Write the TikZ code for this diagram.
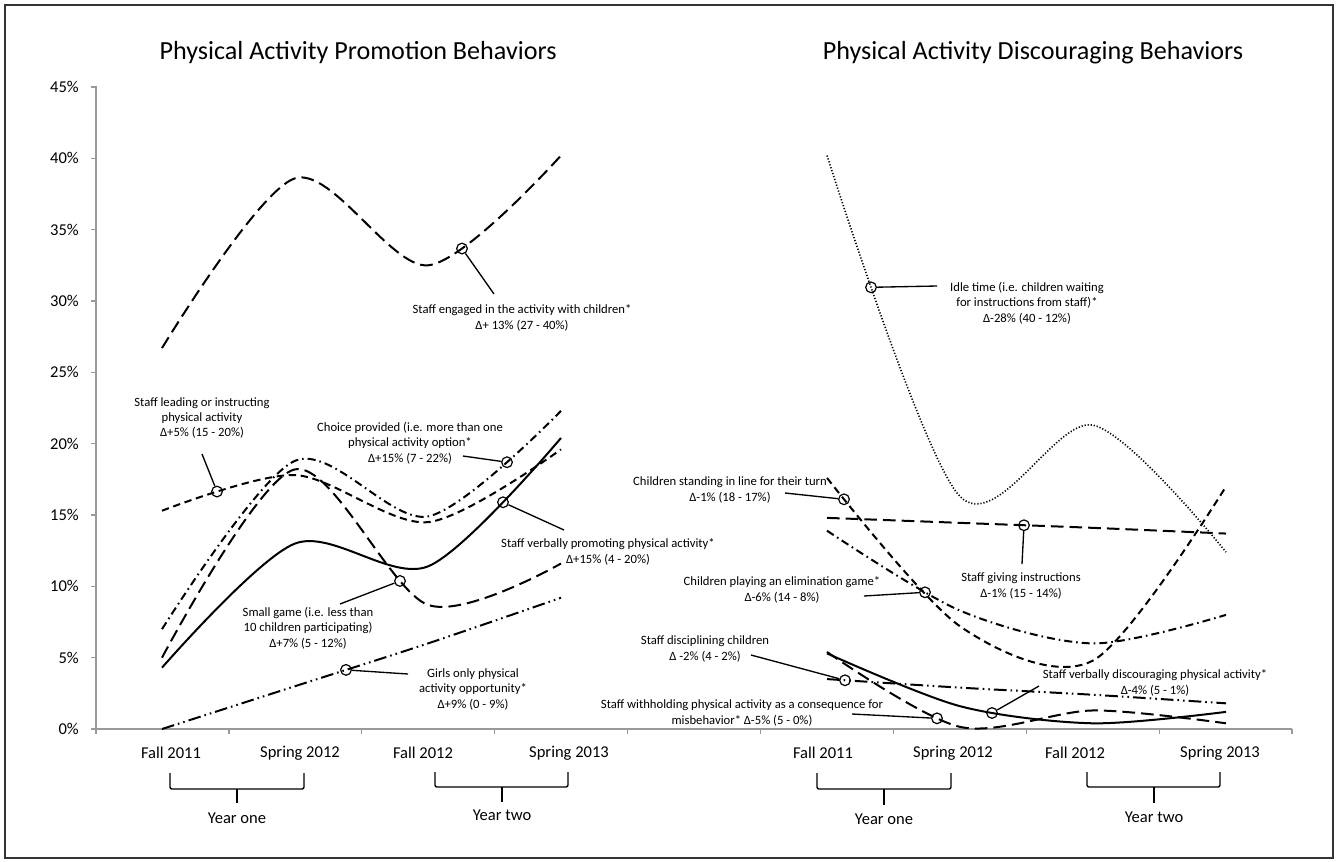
\documentclass[tikz,border=0pt]{standalone}
\usepackage{fontspec}
\setmainfont{Carlito}
\usetikzlibrary{intersections}
\begin{document}
\begin{tikzpicture}[x=0.75pt,y=-0.75pt,
  ln/.style={line width=1.5pt, line join=round},
  longdash/.style={ln, dash pattern=on 9.5pt off 4.5pt},
  shortdash/.style={ln, dash pattern=on 5.5pt off 3.5pt},
  dashdot/.style={ln, dash pattern=on 6pt off 3pt on 1.2pt off 3pt},
  dashdotdot/.style={ln, dash pattern=on 9.5pt off 3pt on 1.2pt off 3pt on 1.2pt off 3pt},
  dotline/.style={line width=1.2pt, dash pattern=on 0.9pt off 1.4pt},
  solidline/.style={ln},
  ring/.style={circle, draw, line width=0.9pt, minimum size=8pt, inner sep=0pt},
  leader/.style={line width=1pt},
  lab/.style={align=center, font=\fontsize{9.5}{11.6}\selectfont, inner sep=0pt},
  axlab/.style={font=\fontsize{12.4}{14}\selectfont, inner sep=0pt},
  ttl/.style={font=\fontsize{19.6}{22}\selectfont, inner sep=0pt},
  axisline/.style={draw=black!40, line width=1pt},
  bracket/.style={line width=1pt, rounded corners=1.5pt}
]
\useasboundingbox (0,0) rectangle (1341,861);
\draw[line width=1.2pt, draw=black!80] (5,5) rectangle (1333,858);

% titles
\node[ttl] (title1) at (358,53) {Physical Activity Promotion Behaviors};
\node[ttl] (title2) at (1033,53) {Physical Activity Discouraging Behaviors};

% axes
\draw[axisline] (96,86) -- (96,729) -- (1292,729);
\foreach \k/\t in {0/0,1/5,2/10,3/15,4/20,5/25,6/30,7/35,8/40,9/45}{
  \draw[axisline] (91,{729-71.33*\k}) -- (96,{729-71.33*\k});
  \node[axlab, anchor=east] (yl\k) at (79,{729-71.33*\k}) {\t\%};
}
\foreach \i in {0,...,9}{
  \draw[axisline] ({96+132.9*\i},729) -- ({96+132.9*\i},734);
}
\node[axlab] (xa1) at (171,753) {Fall 2011};
\node[axlab] (xa2) at (300,753) {Spring 2012};
\node[axlab] (xa3) at (423,753) {Fall 2012};
\node[axlab] (xa4) at (569,753) {Spring 2013};
\node[axlab] (xb1) at (823,753) {Fall 2011};
\node[axlab] (xb2) at (953,753) {Spring 2012};
\node[axlab] (xb3) at (1075,753) {Fall 2012};
\node[axlab] (xb4) at (1220,753) {Spring 2013};

% brackets
\draw[bracket] (170,773) -- (170,789) -- (304,789) -- (304,773);
\draw[bracket] (237,789) -- (237,803);
\node[axlab] (ya1) at (237,818) {Year one};
\draw[bracket] (435,772) -- (435,787) -- (568,787) -- (568,772);
\draw[bracket] (502,787) -- (502,802);
\node[axlab] (ya2) at (502,815) {Year two};
\draw[bracket] (817,773) -- (817,789) -- (951,789) -- (951,773);
\draw[bracket] (884,789) -- (884,805);
\node[axlab] (yb1) at (884,819) {Year one};
\draw[bracket] (1087,772) -- (1087,787) -- (1220,787) -- (1220,772);
\draw[bracket] (1154,787) -- (1154,803);
\node[axlab] (yb2) at (1154,817) {Year two};

% curves
\begin{scope}[shift={(0,729)}, y=10.7pt]
\draw[longdash, name path global=c1] plot[smooth, tension=0.5] coordinates {(162,26.7) (295,38.6) (428,32.5) (561,40.2)};
\draw[shortdash, name path global=c2] plot[smooth, tension=0.5] coordinates {(162,15.3) (295,17.8) (428,14.5) (561,19.6)};
\draw[dashdot, name path global=c3] plot[smooth, tension=0.5] coordinates {(162,7.0) (295,18.8) (428,14.9) (561,22.3)};
\draw[solidline, name path global=c4] plot[smooth, tension=0.5] coordinates {(162,4.3) (295,13.0) (428,11.4) (561,20.4)};
\draw[longdash, name path global=c5] plot[smooth, tension=0.5] coordinates {(162,5.0) (295,18.2) (428,8.7) (561,11.6)};
\draw[dashdotdot, name path global=c6] plot[smooth, tension=0.5] coordinates {(162,0) (295,3.0) (428,6.0) (561,9.2)};
\draw[dotline, name path global=c7] plot[smooth, tension=0.5] coordinates {(827,40.2) (960,16.3) (1093,21.3) (1226,12.4)};
\draw[shortdash, name path global=c8] plot[smooth, tension=0.5] coordinates {(827,17.6) (960,7.2) (1093,4.8) (1226,17.0)};
\draw[longdash, name path global=c9] plot[smooth, tension=0.5] coordinates {(827,14.8) (960,14.45) (1093,14.1) (1226,13.7)};
\draw[dashdot, name path global=c10] plot[smooth, tension=0.5] coordinates {(827,13.9) (960,8.3) (1093,6.0) (1226,8.0)};
\draw[dashdotdot, name path global=c11] plot[smooth, tension=0.5] coordinates {(827,3.5) (960,2.9) (1093,2.4) (1226,1.8)};
\draw[solidline, name path global=c12] plot[smooth, tension=0.5] coordinates {(827,5.3) (960,1.6) (1093,0.4) (1226,1.2)};
\draw[longdash, name path global=c13] plot[smooth, tension=0.5] coordinates {(827,5.4) (960,0.15) (1093,1.3) (1226,0.4)};
\end{scope}

% vertical probes for annotation rings
\foreach \n/\x in {1/462,2/217,3/507,4/503,5/400,6/346,7/871,8/844,9/1024,10/925,11/845,12/992,13/937}{
  \path[name path global=v\n] (\x,0) -- (\x,861);
}
\foreach \n in {1,...,13}{
  \path[name intersections={of={c\n} and {v\n}, by={q\n}}];
  \node[ring] (o\n) at (q\n) {};
}

% labels
\node[lab] (t1) at (522,318) {Staff engaged in the activity with children*\\Δ+ 13\% (27 - 40\%)};
\node[lab] (t2) at (202,418) {Staff leading or instructing\\physical activity\\Δ+5\% (15 - 20\%)};
\node[lab] (t3) at (410,443) {Choice provided (i.e. more than one\\physical activity option*\\Δ+15\% (7 - 22\%)};
\node[lab] (t4) at (608,552) {Staff verbally promoting physical activity*\\Δ+15\% (4 - 20\%)};
\node[lab] (t5) at (308,628) {Small game (i.e. less than\\10 children participating)\\Δ+7\% (5 - 12\%)};
\node[lab] (t6) at (473,689) {Girls only physical\\activity opportunity*\\Δ+9\% (0 - 9\%)};
\node[lab] (t7) at (1027,303) {Idle time (i.e. children waiting\\for instructions from staff)*\\Δ-28\% (40 - 12\%)};
\node[lab] (t8) at (730,490) {Children standing in line for their turn\\Δ-1\% (18 - 17\%)};
\node[lab] (t9) at (1021,586) {Staff giving instructions\\Δ-1\% (15 - 14\%)};
\node[lab] (t10) at (782,590) {Children playing an elimination game*\\Δ-6\% (14 - 8\%)};
\node[lab] (t11) at (705,649) {Staff disciplining children\\Δ -2\% (4 - 2\%)};
\node[lab] (t12) at (1155,683) {Staff verbally discouraging physical activity*\\Δ-4\% (5 - 1\%)};
\node[lab] (t13) at (742,713) {Staff withholding physical activity as a consequence for\\misbehavior* Δ-5\% (5 - 0\%)};

% leader ends
\coordinate (e1) at (494,294);
\coordinate (e2) at (202,454);
\coordinate (e3) at (463,456);
\coordinate (e4) at (564,530);
\coordinate (e5) at (340,604);
\coordinate (e6) at (408,674);
\coordinate (e7) at (937,286);
\coordinate (e8) at (785,493);
\coordinate (e9) at (1022,564);
\coordinate (e10) at (864,596);
\coordinate (e11) at (751,655);
\coordinate (e12) at (1039,686);
\coordinate (e13) at (852,714);
\foreach \n in {1,...,13}{
  \draw[leader] (o\n) -- (e\n);
}
\end{tikzpicture}
\end{document}
